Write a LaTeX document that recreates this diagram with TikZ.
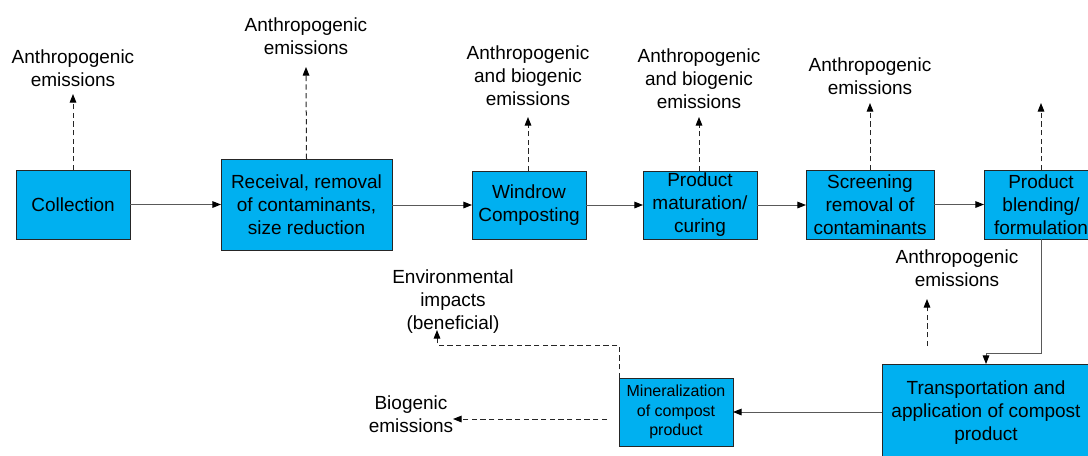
\documentclass[tikz,border=0pt]{standalone}
\usepackage{fontspec}
\setmainfont{Liberation Sans}
\usetikzlibrary{arrows.meta}
\definecolor{boxblue}{HTML}{00B0F0}
\definecolor{linegray}{HTML}{595959}
\definecolor{dashgray}{HTML}{262626}
\begin{document}
\begin{tikzpicture}[x=0.75pt,y=-0.75pt,
  every node/.style={inner sep=0pt,outer sep=0pt},
  size/.style 2 args={minimum width=#1*0.75pt,minimum height=#2*0.75pt},
  stage/.style={draw=black!85,line width=0.75pt,fill=boxblue,align=center,
    font=\fontsize{14.25}{17.25}\selectfont},
  label/.style={align=center,font=\fontsize{14.25}{17.25}\selectfont},
  tip/.style={-{Triangle[length=6.5pt,width=5pt,color=black]}},
  flow/.style={draw=linegray,line width=0.75pt,tip},
  emit/.style={draw=dashgray,line width=0.75pt,dash pattern=on 4pt off 2.5pt,tip}]
\useasboundingbox (0,0) rectangle (1088,455);
\clip (0,0) rectangle (1088,455);

% process stages
\node[stage,size={114}{69}] (collect) at (73,204.5) {Collection};
\node[stage,size={171}{91}] (receive) at (306.5,204.5)
  {Receival, removal\\of contaminants,\\size reduction};
\node[stage,size={114}{68}] (windrow) at (529,205) {Windrow\\Composting};
\node[stage,size={114}{68}] (mature) at (700,205)
  {Product\\maturation/\\curing};
\node[stage,size={128}{69}] (screen) at (870,204.5)
  {Screening\\removal of\\contaminants};
\node[stage,size={114}{69}] (blend) at (1041,204.5)
  {Product\\blending/\\formulation};
\node[stage,size={208}{98}] (transport) at (986,413)
  {Transportation and\\application of compost\\product};
\node[stage,size={114}{68},font=\fontsize{12}{14.6}\selectfont]
  (mineral) at (676,412) {Mineralization\\of compost\\product};

% emission labels
\node[label] (e1) at (73,68) {Anthropogenic\\emissions};
\node[label] (e2) at (306,36) {Anthropogenic\\emissions};
\node[label] (e3) at (528,76) {Anthropogenic\\and biogenic\\emissions};
\node[label] (e4) at (699,78.5) {Anthropogenic\\and biogenic\\emissions};
\node[label] (e5) at (870,76.5) {Anthropogenic\\emissions};
\node[label] (e7) at (957,268) {Anthropogenic\\emissions};
\node[label] (bio) at (411,414) {Biogenic\\emissions};
\node[label] (env) at (453,302) {Environmental\\impacts\\(beneficial)};

% free ends of the emission arrows
\coordinate (t1) at (73,94);
\coordinate (t2) at (306,67);
\coordinate (t3) at (528,117);
\coordinate (t4) at (699,117);
\coordinate (t5) at (870,103);
\coordinate (t6) at (1041,103);
\coordinate (s7) at (927,346);
\coordinate (t7) at (927,299);
\coordinate (s8) at (607,419);
\coordinate (t8) at (453,419);
\coordinate (t9) at (437,330);

% main flow
\draw[flow] (collect.east) -- (receive.west |- collect.east);
\draw[flow] (receive.east |- windrow.west) -- (windrow.west);
\draw[flow] (windrow.east) -- (mature.west);
\draw[flow] (mature.east) -- (screen.west |- mature.east);
\draw[flow] (screen.east |- blend.west) -- (blend.west);
\draw[flow] (blend.south) -- (1041,353) -| (transport.north);
\draw[flow] (transport.west |- mineral.east) -- (mineral.east);

% emissions
\draw[emit] (collect.north) -- (t1);
\draw[emit] (receive.north) -- (t2);
\draw[emit] (windrow.north -| t3) -- (t3);
\draw[emit] (mature.north -| t4) -- (t4);
\draw[emit] (screen.north) -- (t5);
\draw[emit] (blend.north) -- (t6);
\draw[emit] (s7) -- (t7);
\draw[emit] (s8) -- (t8);
\draw[emit] (mineral.north west) -- (mineral.north west |- 0,345) -| (t9);
\end{tikzpicture}
\end{document}
